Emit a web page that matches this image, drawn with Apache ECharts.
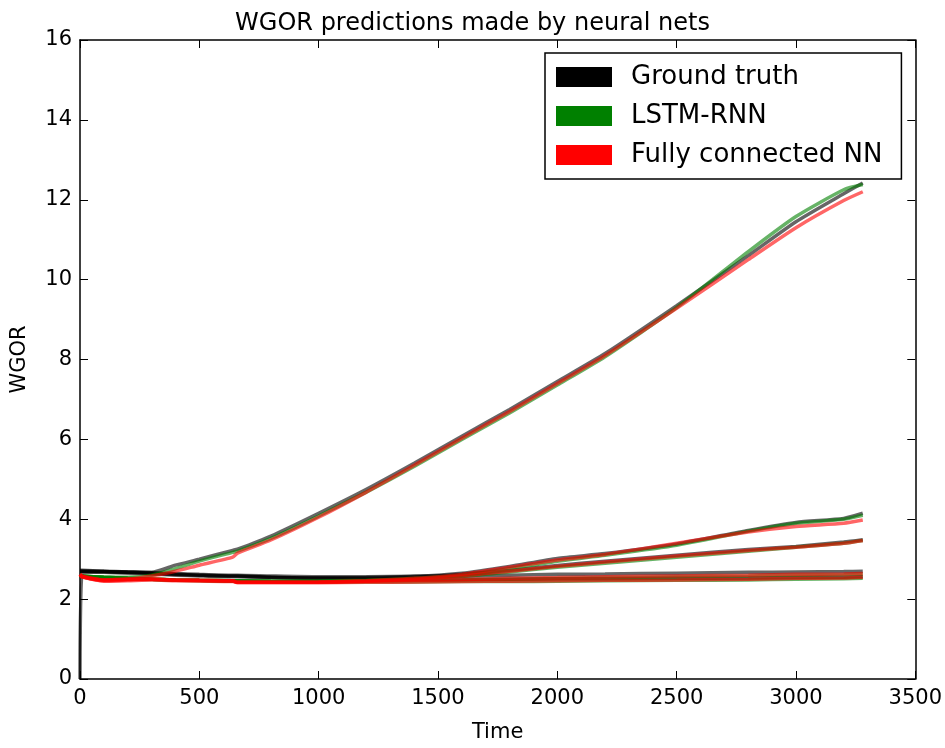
<!DOCTYPE html>
<html>
<head>
<meta charset="utf-8">
<script src="https://cdn.jsdelivr.net/npm/echarts@6/dist/echarts.min.js"></script>
<style>
html, body { margin: 0; padding: 0; background: #fff; }
#chart { width: 945px; height: 748px; }
</style>
</head>
<body>
<div id="chart"></div>
<script>
// time points shared by every curve
const times = [0, 10, 100, 200, 300, 400, 500, 640, 660, 800, 1000, 1200, 1400, 1600, 1800, 2000, 2200, 2500, 2800, 3000, 3200, 3280];

// well A (the one that climbs to ~12.4)
const truthA = [2.70, 2.70, 2.69, 2.68, 2.67, 2.85, 3.00, 3.22, 3.25, 3.58, 4.15, 4.75, 5.40, 6.08, 6.75, 7.45, 8.15, 9.35, 10.60, 11.45, 12.15, 12.42];
const lstmA  = [2.60, 2.58, 2.55, 2.55, 2.60, 2.76, 2.95, 3.17, 3.20, 3.52, 4.08, 4.68, 5.32, 6.00, 6.66, 7.36, 8.07, 9.30, 10.70, 11.58, 12.25, 12.38];
const fcnnA  = [2.62, 2.58, 2.48, 2.50, 2.58, 2.70, 2.85, 3.05, 3.15, 3.48, 4.05, 4.68, 5.35, 6.03, 6.70, 7.40, 8.10, 9.28, 10.50, 11.30, 11.98, 12.20];

// well B (ends ~4.1)
const truthB = [2.70, 2.70, 2.69, 2.67, 2.65, 2.62, 2.60, 2.58, 2.58, 2.55, 2.53, 2.54, 2.57, 2.65, 2.82, 3.02, 3.14, 3.38, 3.72, 3.92, 4.02, 4.15];
const lstmB  = [2.60, 2.58, 2.55, 2.52, 2.50, 2.48, 2.47, 2.46, 2.46, 2.45, 2.45, 2.47, 2.52, 2.60, 2.76, 2.95, 3.10, 3.35, 3.70, 3.90, 4.00, 4.10];
const fcnnB  = [2.62, 2.56, 2.48, 2.50, 2.50, 2.48, 2.47, 2.46, 2.42, 2.42, 2.43, 2.46, 2.52, 2.62, 2.80, 2.98, 3.12, 3.40, 3.68, 3.82, 3.90, 3.98];

// well C (ends ~3.5)
const truthC = [2.70, 2.70, 2.69, 2.67, 2.65, 2.62, 2.60, 2.58, 2.58, 2.55, 2.53, 2.53, 2.55, 2.62, 2.72, 2.84, 2.95, 3.10, 3.24, 3.32, 3.43, 3.49];
const lstmC  = [2.60, 2.58, 2.55, 2.52, 2.50, 2.48, 2.47, 2.46, 2.46, 2.45, 2.44, 2.46, 2.50, 2.57, 2.68, 2.80, 2.90, 3.05, 3.20, 3.30, 3.40, 3.47];
const fcnnC  = [2.62, 2.56, 2.48, 2.50, 2.50, 2.48, 2.47, 2.46, 2.42, 2.42, 2.42, 2.45, 2.50, 2.58, 2.70, 2.82, 2.93, 3.08, 3.22, 3.30, 3.40, 3.47];

// well D (flat, ends ~2.7)
const truthD = [2.72, 2.72, 2.70, 2.68, 2.66, 2.64, 2.62, 2.60, 2.60, 2.58, 2.56, 2.56, 2.57, 2.58, 2.60, 2.62, 2.63, 2.65, 2.67, 2.68, 2.69, 2.70];
const lstmD  = [2.60, 2.58, 2.55, 2.52, 2.50, 2.48, 2.47, 2.46, 2.46, 2.45, 2.45, 2.46, 2.47, 2.48, 2.50, 2.52, 2.54, 2.56, 2.58, 2.60, 2.61, 2.62];
const fcnnD  = [2.62, 2.56, 2.46, 2.48, 2.50, 2.48, 2.47, 2.46, 2.42, 2.42, 2.43, 2.45, 2.47, 2.49, 2.52, 2.54, 2.56, 2.58, 2.60, 2.62, 2.63, 2.64];

// well E (flat, ends ~2.55, truth starts at 0)
const truthE = [0.00, 2.68, 2.67, 2.65, 2.63, 2.60, 2.58, 2.56, 2.56, 2.54, 2.52, 2.50, 2.50, 2.50, 2.50, 2.51, 2.51, 2.52, 2.53, 2.54, 2.55, 2.56];
const lstmE  = [2.58, 2.56, 2.52, 2.50, 2.49, 2.47, 2.46, 2.45, 2.45, 2.44, 2.43, 2.43, 2.43, 2.44, 2.44, 2.45, 2.46, 2.47, 2.48, 2.50, 2.51, 2.52];
const fcnnE  = [2.60, 2.55, 2.45, 2.46, 2.48, 2.46, 2.45, 2.44, 2.41, 2.41, 2.41, 2.42, 2.43, 2.44, 2.45, 2.46, 2.47, 2.48, 2.50, 2.52, 2.53, 2.55];

const xTicks = [0, 500, 1000, 1500, 2000, 2500, 3000, 3500];
const yTicks = [0, 2, 4, 6, 8, 10, 12, 14, 16];

const names = ['Ground truth', 'LSTM-RNN', 'Fully connected NN'];
const colors = ['#000000', '#008000', '#ff0000'];

const groups = [
    [truthA, truthB, truthC, truthD, truthE],
    [lstmA, lstmB, lstmC, lstmD, lstmE],
    [fcnnA, fcnnB, fcnnC, fcnnD, fcnnE]
];

const font = 'DejaVu Sans';

let series = [];
groups.forEach((wells, k) => {
    wells.forEach(vals => {
        series.push({
            name: names[k],
            type: 'line',
            data: times.map((t, i) => [t, vals[i]]),
            showSymbol: false,
            smooth: 0.2,
            color: colors[k],
            lineStyle: { width: 3.5, color: colors[k], opacity: 0.6 },
            itemStyle: { color: colors[k] },
            emphasis: { disabled: true },
            silent: true
        });
    });
});

const axisLine = { show: true, onZero: false, lineStyle: { color: '#000', width: 1.5 } };
const axisTick = { show: true, inside: true, length: 8, lineStyle: { color: '#000', width: 1 } };

let myChart = echarts.init(document.getElementById('chart'), null, { renderer: 'canvas' });

let option = {
    animation: false,
    backgroundColor: '#fff',
    title: {
        text: 'WGOR predictions made by neural nets',
        left: 'center',
        top: 7,
        textStyle: { fontFamily: font, fontSize: 24, fontWeight: 'normal', color: '#000' }
    },
    legend: {
        data: names.map((n, k) => ({ name: n, itemStyle: { color: colors[k], opacity: 1 } })),
        orient: 'vertical',
        left: 545,
        top: 53,
        icon: 'rect',
        itemWidth: 56,
        itemHeight: 20,
        itemGap: 13,
        padding: [11, 19, 11, 11],
        borderColor: '#000',
        borderWidth: 1.5,
        backgroundColor: '#fff',
        selectedMode: false,
        textStyle: { fontFamily: font, fontSize: 26, lineHeight: 26, color: '#000', padding: [0, 0, 0, 14] }
    },
    grid: { left: 80, right: 29, top: 40, bottom: 62, containLabel: false },
    xAxis: [
        {
            type: 'value',
            min: 0,
            max: 3500,
            interval: 500,
            name: 'Time',
            nameLocation: 'middle',
            nameGap: 43,
            nameTextStyle: { fontFamily: font, fontSize: 21, color: '#000' },
            axisLine: axisLine,
            axisTick: axisTick,
            axisLabel: { margin: 9, fontFamily: font, fontSize: 21, color: '#000',
                formatter: v => xTicks.includes(v) ? String(v) : '' },
            splitLine: { show: false }
        },
        {
            type: 'value',
            position: 'top',
            min: 0,
            max: 3500,
            interval: 500,
            axisLine: axisLine,
            axisTick: axisTick,
            axisLabel: { show: false },
            splitLine: { show: false }
        }
    ],
    yAxis: [
        {
            type: 'value',
            min: 0,
            max: 16,
            interval: 2,
            name: 'WGOR',
            nameLocation: 'middle',
            nameGap: 50,
            nameTextStyle: { fontFamily: font, fontSize: 21, color: '#000' },
            axisLine: axisLine,
            axisTick: axisTick,
            axisLabel: { margin: 8, fontFamily: font, fontSize: 21, color: '#000',
                formatter: v => yTicks.includes(v) ? String(v) : '' },
            splitLine: { show: false }
        },
        {
            type: 'value',
            position: 'right',
            min: 0,
            max: 16,
            interval: 2,
            axisLine: axisLine,
            axisTick: axisTick,
            axisLabel: { show: false },
            splitLine: { show: false }
        }
    ],
    series: series
};

myChart.setOption(option);

window.addEventListener('resize', () => {
    myChart.resize();
});
</script>
</body>
</html>
